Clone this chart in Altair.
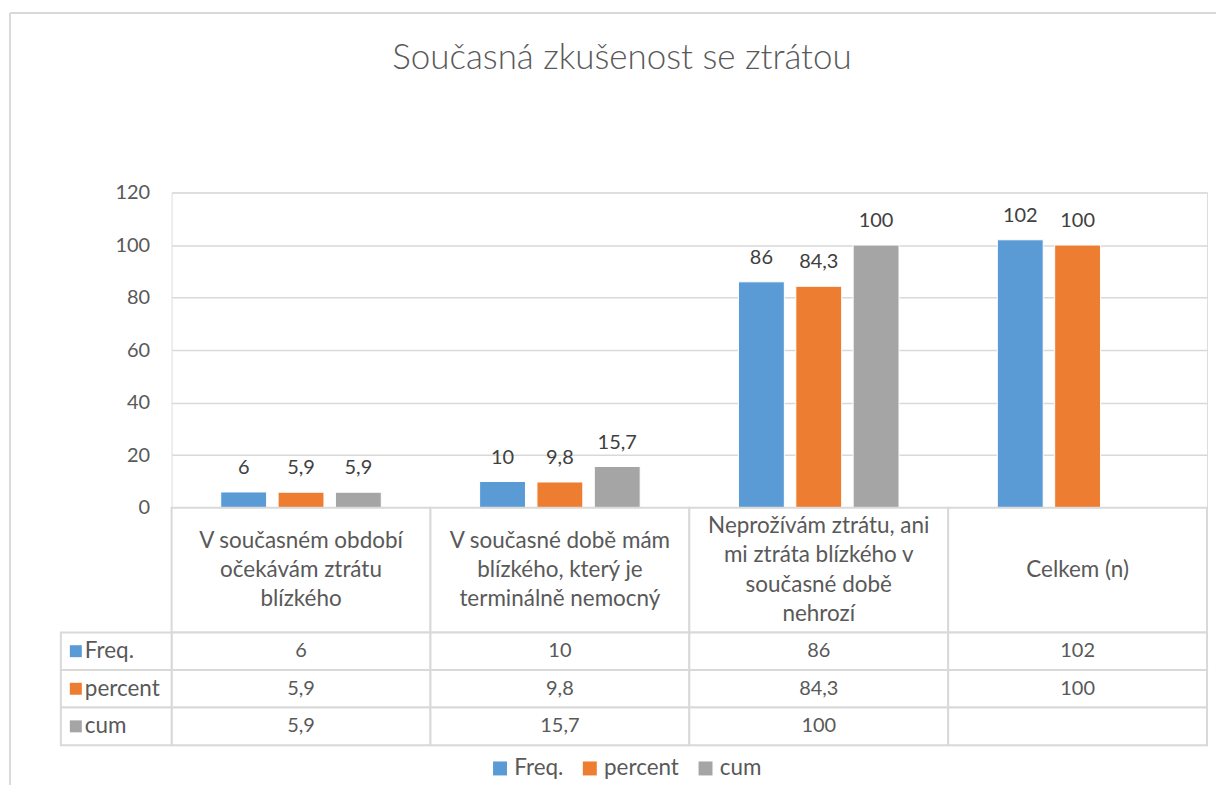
import altair as alt
import pandas as pd

# ---- data ----
chart_title = "Současná zkušenost se ztrátou"
categories = [
    "V současném období\nočekávám ztrátu\nblízkého",
    "V současné době mám\nblízkého, který je\nterminálně nemocný",
    "Neprožívám ztrátu, ani\nmi ztráta blízkého v\nsoučasné době\nnehrozí",
    "Celkem (n)",
]
series = ["Freq.", "percent", "cum"]
freq = [6, 10, 86, 102]
percent = [5.9, 9.8, 84.3, 100]
cum = [5.9, 15.7, 100, None]
y_ticks = [0, 20, 40, 60, 80, 100, 120]
colors = ["#5B9BD5", "#ED7D31", "#A5A5A5"]

def fmt(v):
    if v is None:
        return ""
    return (str(int(v)) if float(v).is_integer() else str(v)).replace(".", ",")

rows = []
for s, vals in zip(series, [freq, percent, cum]):
    for c, v in zip(categories, vals):
        rows.append({"cat": c, "series": s, "value": v, "label": fmt(v)})
cell_df = pd.DataFrame(rows)
bar_df = cell_df[cell_df["value"].notna()].copy()
cat_df = pd.DataFrame({"cat": categories})
series_df = pd.DataFrame({"series": series})

head_rows = []
for c in categories:
    lines = c.split("\n")
    n = len(lines)
    for i, ln in enumerate(lines):
        head_rows.append({"cat": c, "line": ln, "pos": i - (n - 1) / 2})
head_df = pd.DataFrame(head_rows)

# ---- layout constants ----
W = 1038
BAR_H = 316
HEAD_H = 125
ROWS_H = 113
LINE_H = 29.5
TXT = "#595959"
GRID = "#D9D9D9"
FONT = "Lato"
FS_NUM = 20
FS_TXT = 22.5

x_enc = alt.X("cat:N", sort=categories,
              scale=alt.Scale(domain=categories, paddingInner=0, paddingOuter=0),
              axis=None)
color_enc = alt.Color("series:N",
                      scale=alt.Scale(domain=series, range=colors),
                      legend=alt.Legend(title=None, orient="none", direction="horizontal",
                                        legendX=318, legendY=566,
                                        symbolType="square", symbolSize=196,
                                        symbolStrokeWidth=0, labelFont=FONT,
                                        labelFontSize=FS_TXT, labelColor=TXT,
                                        columnPadding=15, labelOffset=3))

# ---- bar panel ----
bar_base = alt.Chart(bar_df).encode(
    x=x_enc,
    xOffset=alt.XOffset("series:N",
                        scale=alt.Scale(domain=series, paddingInner=0.2, paddingOuter=0.857)),
    y=alt.Y("value:Q", scale=alt.Scale(domain=[0, 120]),
            axis=alt.Axis(values=y_ticks, title=None, grid=True, gridColor=GRID,
                          gridWidth=1.5, domain=False, ticks=False, labelPadding=22,
                          labelFont=FONT, labelFontSize=FS_NUM, labelColor=TXT)),
)
bars = bar_base.mark_bar(stroke="white", strokeWidth=1).encode(color=color_enc)
bar_labels = bar_base.mark_text(baseline="alphabetic", dy=-18, font=FONT,
                                fontSize=FS_NUM, color="#404040").encode(text="label:N")

# chart-area frame (top and left edges, as in the spreadsheet export)
frame_top = alt.Chart(cat_df).mark_rule(color=GRID, strokeWidth=1.5).encode(
    x=alt.value(-162), x2=alt.value(W + 9), y=alt.value(-180))
frame_left = alt.Chart(cat_df).mark_rule(color=GRID, strokeWidth=1.5).encode(
    x=alt.value(-162), y=alt.value(-180), y2=alt.value(594))
bar_panel = (frame_top + frame_left + bars + bar_labels).properties(width=W, height=BAR_H)

# ---- header row of the table ----
head_cells = alt.Chart(cat_df).mark_rect(fill="white", stroke=GRID, strokeWidth=2).encode(
    x=x_enc, y=alt.value(0), y2=alt.value(HEAD_H))
head_text = alt.Chart(head_df).mark_text(font=FONT, fontSize=FS_TXT, color=TXT,
                                         baseline="middle").encode(
    x=x_enc,
    y=alt.Y("pos:Q", scale=alt.Scale(domain=[-HEAD_H / 2 / LINE_H, HEAD_H / 2 / LINE_H],
                                     reverse=True), axis=None),
    text="line:N")
head_panel = (head_cells + head_text).properties(width=W, height=HEAD_H)

# ---- data rows of the table ----
y_row = alt.Y("series:N", sort=series,
              scale=alt.Scale(domain=series, paddingInner=0, paddingOuter=0), axis=None)
cells = alt.Chart(cell_df).mark_rect(fill="white", stroke=GRID, strokeWidth=2).encode(
    x=x_enc, y=y_row)
cell_text = alt.Chart(cell_df).mark_text(font=FONT, fontSize=FS_NUM, color=TXT,
                                         baseline="middle").encode(
    x=x_enc, y=y_row, text="label:N")
name_cells = alt.Chart(series_df).mark_rect(fill="white", stroke=GRID, strokeWidth=2).encode(
    x=alt.value(-111), x2=alt.value(0), y=y_row)
swatches = alt.Chart(series_df).mark_square(size=144, opacity=1, strokeWidth=0).encode(
    x=alt.value(-96), y=y_row, color=color_enc)
names = alt.Chart(series_df).mark_text(align="left", baseline="middle", font=FONT,
                                       fontSize=FS_TXT, color=TXT).encode(
    x=alt.value(-87), y=y_row, text="series:N")
rows_panel = (cells + cell_text + name_cells + swatches + names).properties(
    width=W, height=ROWS_H)

chart = alt.vconcat(bar_panel, head_panel, rows_panel, spacing=0, bounds="flush").properties(
    title=alt.TitleParams(chart_title, font=FONT, fontSize=35, fontWeight=300,
                          color=TXT, anchor="middle", offset=-64, dx=9),
    padding={"left": 0, "top": 2, "right": 0, "bottom": 0},
).configure_view(stroke=None).configure(font=FONT)

chart.save("out.html", embed_options={"renderer": "svg", "actions": False})
